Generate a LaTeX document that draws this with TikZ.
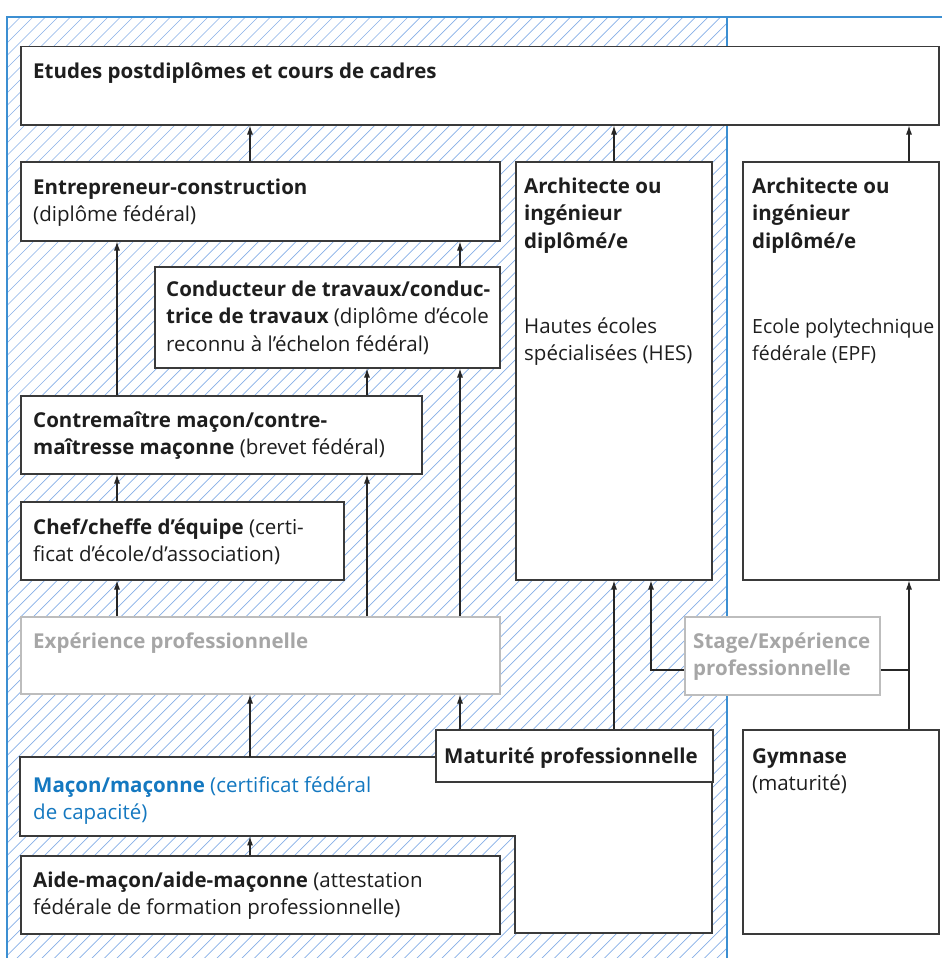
\documentclass[tikz,border=0pt]{standalone}
\usepackage{fontspec}
\setmainfont{Open Sans}
\usetikzlibrary{arrows.meta}
\definecolor{boxc}{HTML}{3A3A3A}
\definecolor{txtc}{HTML}{1E1E1E}
\definecolor{grayt}{HTML}{A6A6A6}
\definecolor{grayb}{HTML}{BDBDBD}
\definecolor{bluet}{HTML}{1478C0}
\definecolor{blueb}{HTML}{3C8FD2}
\definecolor{hatchc}{HTML}{86AEE6}
\newcommand\mlines[1]{\begin{tabular}[t]{@{}l@{}}#1\end{tabular}}
\begin{document}
\begin{tikzpicture}[x=1pt,y=-1pt,
  box/.style={draw=boxc,line width=1.5pt,fill=white,rectangle,inner sep=0pt,anchor=north west},
  graybox/.style={box,draw=grayb},
  ghost/.style={rectangle,inner sep=0pt,anchor=north west},
  outline/.style={draw=boxc,line width=1.5pt,fill=white},
  txt/.style={anchor=base west,inner sep=0pt,text=txtc,font=\fontsize{20.5}{27.5}\selectfont},
  arr/.style={line width=1.1pt,draw=black!85,-{Latex[length=9pt,width=6pt]}},
  conn/.style={line width=1.1pt,draw=black!85},
  hatchl/.style={draw=hatchc,line width=0.7pt},
  blueline/.style={draw=blueb,line width=1.5pt}]
\useasboundingbox (0,0) rectangle (942,958);
% hatched area
\begin{scope}
  \clip (7,17) rectangle (727,958);
  \foreach \c in {0,12.5,...,1710} {\draw[hatchl] (\c,0) -- ++(-1000,1000);}
\end{scope}
\draw[blueline] (7,958) -- (7,17) -- (942,17);
\draw[blueline] (727,17) -- (727,958);
% column coordinates
\coordinate (xa) at (117,0);
\coordinate (xb) at (250,0);
\coordinate (xc) at (367,0);
\coordinate (xd) at (460,0);
\coordinate (xe) at (614,0);
\coordinate (xf) at (651,0);
\coordinate (xg) at (909,0);
\coordinate (ys) at (0,670);
% boxes
\node[box,minimum width=918pt,minimum height=78pt] (etudes) at (20,46) {};
\node[box,minimum width=479pt,minimum height=79pt] (entre) at (20,161) {};
\node[box,minimum width=196pt,minimum height=418pt] (hes) at (515,161) {};
\node[box,minimum width=196pt,minimum height=418pt] (epf) at (742,161) {};
\node[box,minimum width=345pt,minimum height=101pt] (cond) at (154,266) {};
\node[box,minimum width=401pt,minimum height=78pt] (contre) at (20,395) {};
\node[box,minimum width=323pt,minimum height=78pt] (chef) at (20,501) {};
\node[graybox,minimum width=479pt,minimum height=77pt] (exp) at (20,616) {};
\node[graybox,minimum width=195pt,minimum height=78pt] (stage) at (684,616) {};
\node[ghost,minimum width=692pt,minimum height=79pt] (macon) at (20,757) {};
\draw[outline] (20,757) -- (712,757) -- (712,933) -- (515,933) -- (515,836) -- (20,836) -- cycle;
\node[box,minimum width=277pt,minimum height=52pt] (matur) at (435,729) {};
\node[box,minimum width=196pt,minimum height=204pt] (gym) at (742,729) {};
\node[box,minimum width=479pt,minimum height=78pt] (aide) at (20,855) {};
% texts
\node[txt] (tetudes) at (33,78) {\textbf{Etudes postdiplômes et cours de cadres}};
\node[txt] (tentre) at (33,194) {\mlines{\textbf{Entrepreneur-construction}\\(diplôme fédéral)}};
\node[txt] (thes) at (524,193) {\mlines{\textbf{Architecte ou}\\\textbf{ingénieur}\\\textbf{diplômé/e}}};
\node[txt] (thes2) at (524,333) {\mlines{Hautes écoles\\spécialisées (HES)}};
\node[txt] (tepf) at (752,193) {\mlines{\textbf{Architecte ou}\\\textbf{ingénieur}\\\textbf{diplômé/e}}};
\node[txt,font=\fontsize{19.5}{27.5}\selectfont] (tepf2) at (752,333) {\mlines{Ecole polytechnique\\fédérale (EPF)}};
\node[txt] (tcond) at (166,296) {\mlines{\textbf{Conducteur de travaux/conduc-}\\\textbf{trice de travaux} (diplôme d’école\\reconnu à l’échelon fédéral)}};
\node[txt] (tcontre) at (33,427) {\mlines{\textbf{Contremaître maçon/contre-}\\\textbf{maîtresse maçonne} (brevet fédéral)}};
\node[txt] (tchef) at (33,534) {\mlines{\textbf{Chef/cheffe d’équipe} (certi-\\ficat d’école/d’association)}};
\node[txt,text=grayt] (texp) at (33,648) {\textbf{Expérience professionnelle}};
\node[txt,text=grayt] (tstage) at (693,648) {\mlines{\textbf{Stage/Expérience}\\\textbf{professionnelle}}};
\node[txt] (tmatur) at (444,763) {\textbf{Maturité professionnelle}};
\node[txt] (tgym) at (752,763) {\mlines{\textbf{Gymnase}\\(maturité)}};
\node[txt,text=bluet] (tmacon) at (33,792) {\mlines{\textbf{Maçon/maçonne} (certificat fédéral\\de capacité)}};
\node[txt] (taide) at (33,887) {\mlines{\textbf{Aide-maçon/aide-maçonne} (attestation\\fédérale de formation professionnelle)}};
% connectors
\draw[arr] (entre.north -| xb) -- (etudes.south -| xb);
\draw[arr] (hes.north -| xe) -- (etudes.south -| xe);
\draw[arr] (epf.north -| xg) -- (etudes.south -| xg);
\draw[arr] (contre.north -| xa) -- (entre.south -| xa);
\draw[arr] (cond.north -| xd) -- (entre.south -| xd);
\draw[arr] (contre.north -| xc) -- (cond.south -| xc);
\draw[arr] (exp.north -| xd) -- (cond.south -| xd);
\draw[arr] (chef.north -| xa) -- (contre.south -| xa);
\draw[arr] (exp.north -| xc) -- (contre.south -| xc);
\draw[arr] (exp.north -| xa) -- (chef.south -| xa);
\draw[arr] (macon.north -| xb) -- (exp.south -| xb);
\draw[arr] (matur.north -| xd) -- (exp.south -| xd);
\draw[arr] (aide.north -| xb) -- (macon.south -| xb);
\draw[arr] (matur.north -| xe) -- (hes.south -| xe);
\draw[arr] (stage.west |- ys) -| (hes.south -| xf);
\draw[conn] (stage.east |- ys) -- (xg |- ys);
\draw[arr] (gym.north -| xg) -- (epf.south -| xg);
\end{tikzpicture}
\end{document}
